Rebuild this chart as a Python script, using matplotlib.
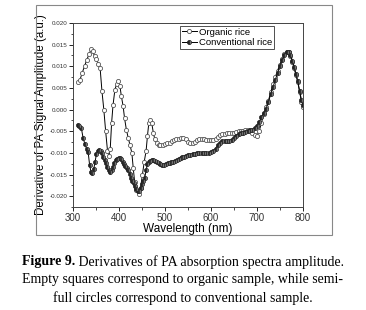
import numpy as np
import matplotlib
matplotlib.use("Agg")
import matplotlib.pyplot as plt
from matplotlib.patches import Rectangle
from matplotlib.ticker import MultipleLocator

# organic rice (open markers)
wl_org = [310, 315, 320, 325, 330, 335, 340, 343, 347, 351, 355, 359, 363, 367, 371, 375, 378, 381,
          384, 387, 391, 395, 398, 402, 405, 409, 412, 416, 420, 424, 428, 431, 434, 438, 443, 447,
          451, 455, 459, 462, 465, 468, 471, 475, 478, 482, 486, 490, 495, 500, 505, 510, 515, 520,
          525, 530, 535, 540, 545, 550, 555, 560, 565, 570, 575, 580, 585, 590, 595, 600, 605, 610,
          615, 620, 625, 630, 635, 640, 645, 650, 655, 660, 665, 670, 675, 680, 685, 690, 695, 700,
          705, 710, 715, 720, 725, 730, 735, 740, 745, 750, 755, 760, 765, 769, 773, 777, 781, 785,
          789, 793, 797, 800]
val_org = [0.0063, 0.0068, 0.0085, 0.0100, 0.0115, 0.0128, 0.0141, 0.0135, 0.0123, 0.0116, 0.0106,
           0.0095, 0.0042, 0.0000, -0.0050, -0.0095, -0.0107, -0.0090, -0.0030, 0.0010, 0.0045,
           0.0060, 0.0066, 0.0055, 0.0032, 0.0008, -0.0019, -0.0046, -0.0065, -0.0082, -0.0100,
           -0.0135, -0.0166, -0.0185, -0.0194, -0.0180, -0.0150, -0.0120, -0.0095, -0.0060, -0.0030,
           -0.0023, -0.0030, -0.0055, -0.0069, -0.0077, -0.0081, -0.0082, -0.0081, -0.0080, -0.0077,
           -0.0076, -0.0073, -0.0071, -0.0069, -0.0067, -0.0066, -0.0066, -0.0069, -0.0074, -0.0077,
           -0.0077, -0.0074, -0.0070, -0.0068, -0.0067, -0.0068, -0.0070, -0.0071, -0.0071, -0.0070,
           -0.0067, -0.0063, -0.0059, -0.0057, -0.0056, -0.0055, -0.0055, -0.0054, -0.0053, -0.0051,
           -0.0050, -0.0050, -0.0049, -0.0048, -0.0048, -0.0049, -0.0053, -0.0058, -0.0060, -0.0050,
           -0.0030, -0.0010, 0.0005, 0.0020, 0.0040, 0.0058, 0.0075, 0.0090, 0.0104, 0.0117, 0.0128,
           0.0134, 0.0133, 0.0123, 0.0110, 0.0095, 0.0080, 0.0063, 0.0040, 0.0018, 0.0007]

# conventional rice (semi-full markers)
wl_conv = [310, 314, 318, 322, 326, 330, 333, 336, 339, 342, 345, 348, 351, 354, 357, 360, 363, 366,
           369, 372, 375, 378, 381, 384, 387, 390, 393, 396, 399, 402, 405, 408, 411, 414, 417, 420,
           423, 426, 429, 432, 435, 438, 441, 444, 447, 450, 453, 456, 459, 462, 465, 468, 471, 474,
           478, 482, 486, 490, 494, 498, 502, 506, 510, 514, 518, 522, 526, 530, 534, 538, 542, 546,
           550, 555, 560, 565, 570, 575, 580, 585, 590, 595, 600, 605, 610, 615, 620, 625, 630, 635,
           640, 645, 650, 655, 660, 665, 670, 675, 680, 685, 690, 695, 700, 705, 710, 715, 720, 725,
           730, 735, 740, 745, 750, 755, 760, 765, 769, 773, 777, 781, 785, 789, 793, 797, 800]
val_conv = [-0.0035, -0.0038, -0.0042, -0.0066, -0.0080, -0.0092, -0.0099, -0.0127, -0.0143, -0.0147,
            -0.0138, -0.0120, -0.0103, -0.0095, -0.0093, -0.0095, -0.0101, -0.0110, -0.0116, -0.0124,
            -0.0133, -0.0140, -0.0143, -0.0140, -0.0133, -0.0124, -0.0117, -0.0113, -0.0111, -0.0112,
            -0.0115, -0.0120, -0.0126, -0.0131, -0.0135, -0.0139, -0.0148, -0.0157, -0.0164, -0.0170,
            -0.0176, -0.0184, -0.0189, -0.0188, -0.0182, -0.0172, -0.0165, -0.0158, -0.0140, -0.0125,
            -0.0120, -0.0118, -0.0116, -0.0116, -0.0118, -0.0121, -0.0124, -0.0126, -0.0127, -0.0127,
            -0.0126, -0.0124, -0.0123, -0.0121, -0.0120, -0.0118, -0.0116, -0.0114, -0.0112, -0.0110,
            -0.0109, -0.0107, -0.0105, -0.0104, -0.0103, -0.0102, -0.0101, -0.0101, -0.0100, -0.0100,
            -0.0100, -0.0100, -0.0099, -0.0096, -0.0090, -0.0082, -0.0076, -0.0073, -0.0072, -0.0072,
            -0.0072, -0.0070, -0.0066, -0.0061, -0.0057, -0.0055, -0.0053, -0.0052, -0.0050, -0.0048,
            -0.0046, -0.0043, -0.0037, -0.0028, -0.0018, -0.0008, 0.0002, 0.0018, 0.0035, 0.0052,
            0.0068, 0.0085, 0.0100, 0.0114, 0.0126, 0.0134, 0.0134, 0.0126, 0.0113, 0.0098, 0.0082,
            0.0065, 0.0043, 0.0022, 0.0010]

caption_bold = "Figure 9."
caption_rest = " Derivatives of PA absorption spectra amplitude."
caption_2 = "Empty squares correspond to organic sample, while semi-"
caption_3 = "full circles correspond to conventional sample."

plt.rcParams['font.family'] = ['Liberation Sans', 'DejaVu Sans']

fig = plt.figure(figsize=(3.66, 3.10), dpi=100)
ax = fig.add_axes([0.1995, 0.332, 0.628, 0.594])

ax.plot(wl_org, val_org, '-', color='black', lw=0.7, marker='o', ms=3,
        mfc='white', mec='#555555', mew=0.6, label='Organic rice')
ax.plot(wl_conv, val_conv, '-', color='black', lw=0.7, marker='o', ms=3,
        mfc='#222222', mec='#222222', mew=0.5, fillstyle='left',
        markerfacecoloralt='#777777', label='Conventional rice')

ax.set_xlim(300, 800)
ax.set_ylim(-0.0225, 0.020)
ax.xaxis.set_major_locator(MultipleLocator(100))
ax.xaxis.set_minor_locator(MultipleLocator(50))
ax.yaxis.set_major_locator(MultipleLocator(0.005))
ax.yaxis.set_minor_locator(MultipleLocator(0.0025))
ax.yaxis.set_major_formatter(matplotlib.ticker.FormatStrFormatter('%.3f'))
ax.tick_params(axis='x', which='major', labelsize=7, length=3, width=0.6, pad=1, labelcolor='#333333')
ax.tick_params(axis='y', which='major', labelsize=4.5, length=3, width=0.6, pad=1, labelcolor='#333333')
ax.tick_params(which='minor', length=1.8, width=0.5)
for s in ax.spines.values():
    s.set_linewidth(0.7)
    s.set_color('#444444')

ax.set_xlabel('Wavelength (nm)', fontsize=8.5, labelpad=0)
ax.set_ylabel('Derivative of PA Signal Amplitude (a.u.)', fontsize=8.3, labelpad=2)

leg = ax.legend(loc='upper left', bbox_to_anchor=(0.465, 0.985), fontsize=6.8, numpoints=1,
                frameon=True, fancybox=False, edgecolor='black', handlelength=1.6,
                handletextpad=0.2, borderpad=0.2, labelspacing=0.15, borderaxespad=0)
leg.get_frame().set_linewidth(0.6)

# frame around the chart panel
fig.patches.append(Rectangle((36 / 366, 1 - 235 / 310), 296 / 366, 230 / 310,
                             transform=fig.transFigure, fill=False,
                             edgecolor='#888888', lw=0.8))

serif = ['Liberation Serif', 'DejaVu Serif']
y1 = 1 - 262 / 310
r = fig.canvas.get_renderer()
# first line in two pieces so "Figure 9." is bold, centred as one line
tb = fig.text(0, y1, caption_bold, ha='left', va='center', fontsize=10,
              family=serif, fontweight='bold')
tr = fig.text(0, y1, caption_rest, ha='left', va='center', fontsize=10, family=serif)
wb = tb.get_window_extent(r).width
wr = tr.get_window_extent(r).width
x0 = (fig.bbox.width - wb - wr) / 2
tb.set_x(x0 / fig.bbox.width)
tr.set_x((x0 + wb) / fig.bbox.width)
fig.text(0.5, 1 - 280 / 310, caption_2, ha='center', va='center', fontsize=10, family=serif)
fig.text(0.5, 1 - 298 / 310, caption_3, ha='center', va='center', fontsize=10, family=serif)

fig.savefig('out.png', dpi=100)
